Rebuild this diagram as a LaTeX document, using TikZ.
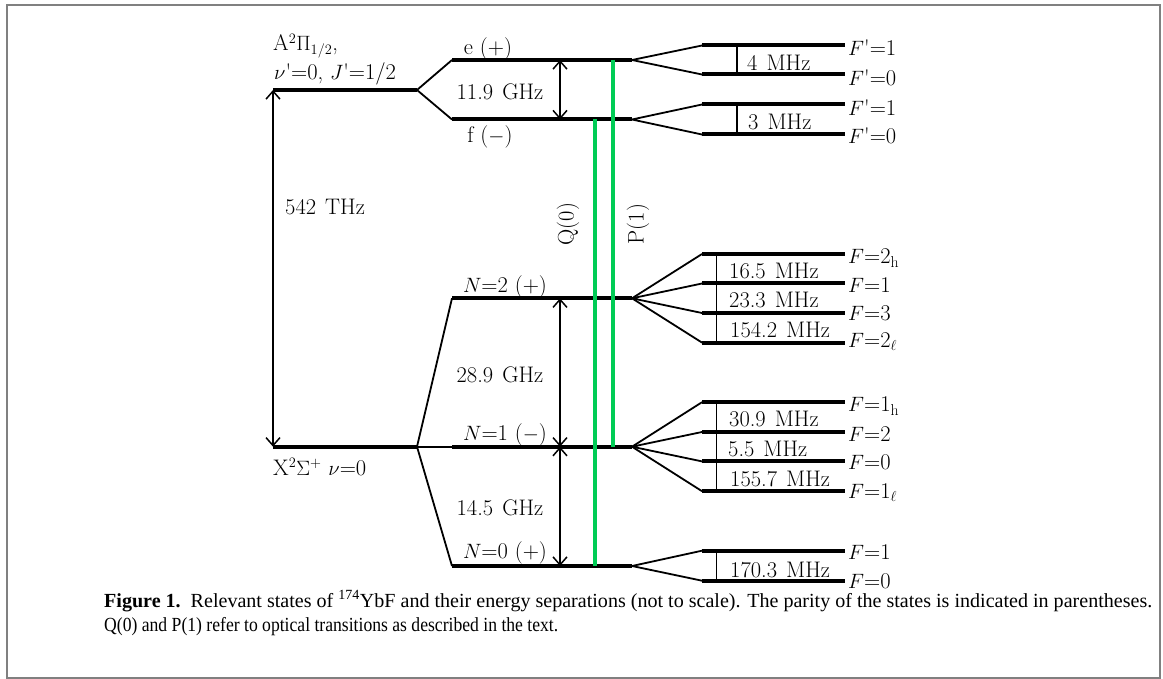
\documentclass[tikz,border=0pt]{standalone}
\usepackage{fontspec}
\usepackage{graphicx}
\usetikzlibrary{arrows.meta}
\newfontfamily\capfont{Liberation Serif}
\definecolor{lgreen}{RGB}{0,204,85}
\definecolor{framegray}{RGB}{128,128,128}
\newcommand{\sq}{\textquotesingle}
\newcommand{\usp}{\hspace{9pt}}
\begin{document}
\begin{tikzpicture}[x=1pt,y=-1pt,
  font=\fontsize{22.5}{27}\selectfont,
  lev/.style={line width=4pt},
  thinl/.style={line width=1.8pt},
  dim/.style={line width=1.5pt,{Straight Barb[length=8pt,width=14pt]}-{Straight Barb[length=8pt,width=14pt]}},
  bar/.style={line width=1.5pt},
  tr/.style={line width=4pt,lgreen},
  lab/.style={inner sep=0pt}]
\useasboundingbox (0,0) rectangle (1163,679);
\draw[framegray,line width=1.6pt] (7,4.8) rectangle (1160,678);

% ---- main level coordinates
\coordinate (Al) at (273,90);   \coordinate (Ar) at (417,90);
\coordinate (el) at (452,60);   \coordinate (er) at (632,60);
\coordinate (fl) at (452,119.5);\coordinate (fr) at (632,119.5);
\coordinate (Xl) at (273,446.7);\coordinate (Xr) at (417,446.7);
\coordinate (N2l) at (452,298.3);\coordinate (N2r) at (632,298.3);
\coordinate (N1l) at (452,446.7);\coordinate (N1r) at (632,446.7);
\coordinate (N0l) at (452,566);  \coordinate (N0r) at (632,566);

% ---- main levels
\draw[lev] (Al) -- (Ar);
\draw[lev] (el) -- (er);
\draw[lev] (fl) -- (fr);
\draw[lev] (Xl) -- (Xr);
\draw[lev] (N2l) -- (N2r);
\draw[lev] (N1l) -- (N1r);
\draw[lev] (N0l) -- (N0r);

% ---- splitting connectors
\draw[thinl] (el) -- (Ar) -- (fl);
\draw[thinl] (N2l) -- (Xr) -- (N0l);
\draw[thinl] (Xr) -- (N1l);

% ---- labels of main levels
\node[lab,anchor=west] (Alab1) at (273,46) {A$^2\Pi_{1/2}$,};
\node[lab,anchor=west] (Alab2) at (274,74) {$\nu$\sq=0, $J$\sq=1/2};
\node[lab] (elab) at (488,49) {e (+)};
\node[lab] (flab) at (490,137) {f ($-$)};
\node[lab,anchor=west] (Xlab) at (273,467) {X$^2\Sigma^+$ $\nu$=0};
\node[lab] (N2lab) at (505,287) {$N$=2 (+)};
\node[lab] (N1lab) at (505,435) {$N$=1 ($-$)};
\node[lab] (N0lab) at (505,553) {$N$=0 (+)};

% ---- interval arrows
\coordinate (a1t) at (560,60);   \coordinate (a1b) at (560,119.5);
\coordinate (a2t) at (560,298.3);\coordinate (a2b) at (560,446.7);
\coordinate (a3b) at (560,566);
\draw[dim] (a1t) -- (a1b);
\draw[dim] (a2t) -- (a2b);
\draw[dim] (a2b) -- (a3b);
\draw[dim] (Al) -- (Xl);
\node[lab] (g1) at (500,92) {11.9\usp GHz};
\node[lab] (g2) at (500,375) {28.9\usp GHz};
\node[lab] (g3) at (500,508) {14.5\usp GHz};
\node[lab,anchor=west] (thz) at (285,207) {542\usp THz};

% ---- optical transitions
\coordinate (Qt) at (595,119.5); \coordinate (Qb) at (595,566);
\coordinate (Pt) at (612.7,60);  \coordinate (Pb) at (612.7,446.7);
\draw[tr] (Qt) -- (Qb);
\draw[tr] (Pt) -- (Pb);
\node[lab,rotate=90] (Qlab) at (568,224) {Q(0)};
\node[lab,rotate=90] (Plab) at (638,224) {P(1)};

% ---- hyperfine levels
\foreach \n/\y in {ea/45.5,eb/74.5,fa/104.5,fb/134.5,
                   na/254,nb/283.5,nc/313,nd/342.6,
                   ma/402.2,mb/432,mc/461.4,md/491.2,
                   oa/550.7,ob/580.7}{
  \coordinate (\n l) at (702,\y);
  \coordinate (\n r) at (845,\y);
  \draw[lev] (\n l) -- (\n r);
}
\draw[thinl] (eal) -- (er) -- (ebl);
\draw[thinl] (fal) -- (fr) -- (fbl);
\draw[thinl] (nal) -- (N2r) -- (ndl); \draw[thinl] (nbl) -- (N2r) -- (ncl);
\draw[thinl] (mal) -- (N1r) -- (mdl); \draw[thinl] (mbl) -- (N1r) -- (mcl);
\draw[thinl] (oal) -- (N0r) -- (obl);

\draw[bar] (737,45.5) -- (737,74.5);
\draw[bar] (737,104.5) -- (737,134.5);
\draw[bar] (716.7,254) -- (716.7,342.6);
\draw[bar] (716.7,402.2) -- (716.7,491.2);
\draw[bar] (716.7,550.7) -- (716.7,580.7);

\node[lab,anchor=west] (h1) at (747,62.5) {4\usp MHz};
\node[lab,anchor=west] (h2) at (748,121.5) {3\usp MHz};
\node[lab,anchor=west] (h3) at (729,270.5) {16.5\usp MHz};
\node[lab,anchor=west] (h4) at (729,300) {23.3\usp MHz};
\node[lab,anchor=west] (h5) at (730,329.5) {154.2\usp MHz};
\node[lab,anchor=west] (h6) at (729,418.5) {30.9\usp MHz};
\node[lab,anchor=west] (h7) at (728,448.5) {5.5\usp MHz};
\node[lab,anchor=west] (h8) at (730,478.5) {155.7\usp MHz};
\node[lab,anchor=west] (h9) at (730,570) {170.3\usp MHz};

\node[lab,anchor=west] (l1) at (848,48) {$F$\sq=1};
\node[lab,anchor=west] (l2) at (848,78) {$F$\sq=0};
\node[lab,anchor=west] (l3) at (848,108) {$F$\sq=1};
\node[lab,anchor=west] (l4) at (848,136) {$F$\sq=0};
\node[lab,anchor=west] (l5) at (848,258) {$F$=2$_\mathrm{h}$};
\node[lab,anchor=west] (l6) at (848,285) {$F$=1};
\node[lab,anchor=west] (l7) at (848,313) {$F$=3};
\node[lab,anchor=west] (l8) at (848,342) {$F$=2$_\ell$};
\node[lab,anchor=west] (l9) at (848,406) {$F$=1$_\mathrm{h}$};
\node[lab,anchor=west] (l10) at (848,434) {$F$=2};
\node[lab,anchor=west] (l11) at (848,462) {$F$=0};
\node[lab,anchor=west] (l12) at (848,493) {$F$=1$_\ell$};
\node[lab,anchor=west] (l13) at (848,552) {$F$=1};
\node[lab,anchor=west] (l14) at (848,581) {$F$=0};

% ---- caption
\node[lab,anchor=base west] (cap1) at (104,607) {\capfont\fontsize{20}{24}\selectfont\resizebox{1048pt}{\height}{\textbf{Figure 1.}\ \ Relevant states of \textsuperscript{174}YbF and their energy separations (not to scale). The parity of the states is indicated in parentheses.}};
\node[lab,anchor=base west] (cap2) at (104,631) {\capfont\fontsize{20}{24}\selectfont\resizebox{454pt}{\height}{Q(0) and P(1) refer to optical transitions as described in the text.}};
\end{tikzpicture}
\end{document}
